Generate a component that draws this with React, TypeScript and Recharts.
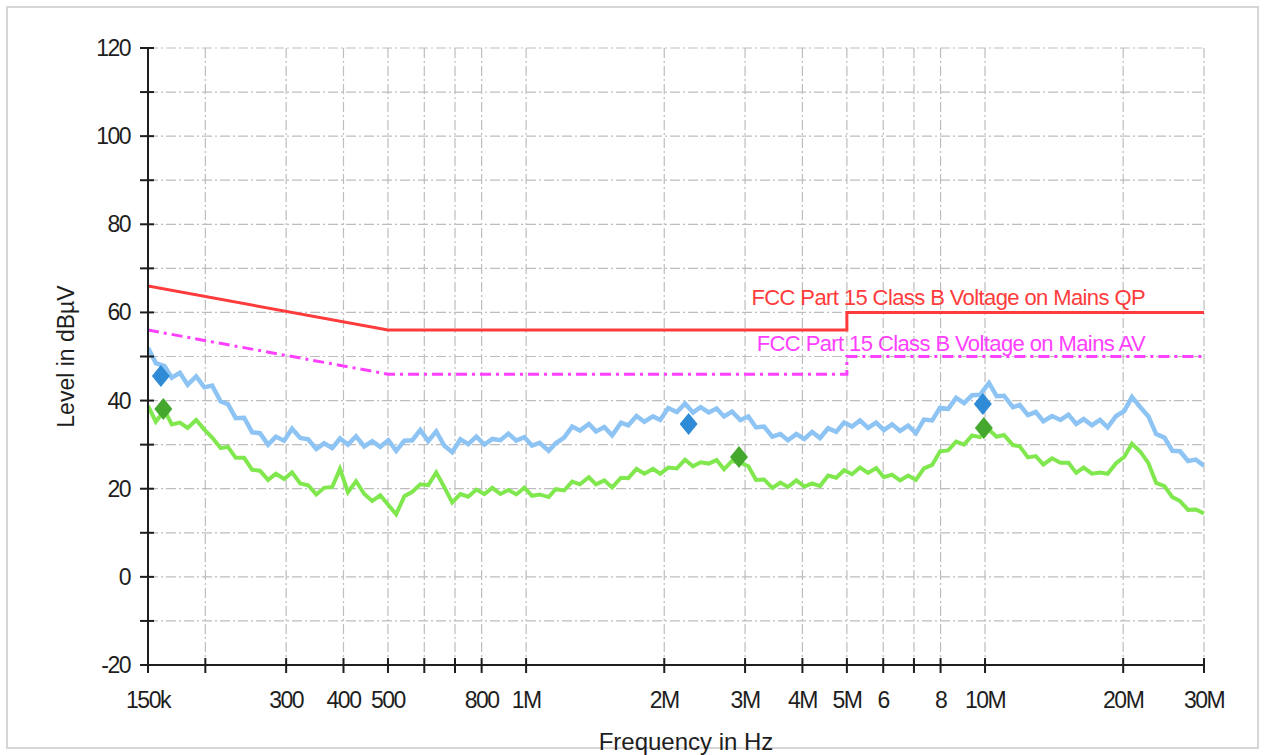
import { ComposedChart, Line, Scatter, XAxis, YAxis, CartesianGrid } from "recharts";

// scan frequencies in MHz
const freqMHz = [
  0.15, 0.156, 0.163, 0.169, 0.176, 0.183, 0.191, 0.199, 0.207, 0.216,
  0.224, 0.233, 0.243, 0.253, 0.263, 0.274, 0.285, 0.297, 0.309, 0.322,
  0.335, 0.349, 0.363, 0.378, 0.393, 0.409, 0.426, 0.444, 0.462, 0.481,
  0.501, 0.521, 0.543, 0.565, 0.588, 0.612, 0.637, 0.663, 0.69, 0.719,
  0.748, 0.779, 0.811, 0.844, 0.879, 0.915, 0.952, 0.991, 1.03, 1.07,
  1.12, 1.16, 1.21, 1.26, 1.31, 1.37, 1.42, 1.48, 1.54, 1.61,
  1.67, 1.74, 1.81, 1.89, 1.96, 2.04, 2.13, 2.22, 2.31, 2.4,
  2.5, 2.6, 2.7, 2.81, 2.93, 3.05, 3.17, 3.3, 3.44, 3.58,
  3.72, 3.88, 4.04, 4.2, 4.37, 4.55, 4.74, 4.93, 5.13, 5.34,
  5.56, 5.79, 6.02, 6.27, 6.53, 6.8, 7.07, 7.36, 7.67, 7.98,
  8.31, 8.65, 9.0, 9.37, 9.75, 10.2, 10.6, 11.0, 11.5, 11.9,
  12.4, 12.9, 13.4, 14.0, 14.6, 15.2, 15.8, 16.4, 17.1, 17.8,
  18.5, 19.3, 20.1, 20.9, 21.8, 22.7, 23.6, 24.6, 25.6, 26.6,
  27.7, 28.8, 30.0,
];

// peak detector trace (dBµV)
const peakLevel = [
  52, 48.5, 47.8, 45.2, 46.3, 43.6, 45.5, 43, 43.4, 39.8,
  39.2, 36, 36.1, 32.8, 32.6, 30, 31.8, 30.9, 33.6, 31.5,
  31.2, 29, 30.3, 29.2, 31.4, 30, 31.9, 29.6, 30.8, 29.5,
  31, 28.6, 30.9, 31, 33.3, 30.8, 33, 29.8, 28.3, 31.2,
  30.1, 31.8, 30, 31.3, 31, 32.5, 30.9, 31.7, 29.8, 30.4,
  28.6, 30.3, 31.6, 34.1, 33.2, 34.7, 33, 34, 32.1, 35,
  34.4, 36.5, 35.2, 36.4, 35.6, 38.3, 37.4, 39.3, 37.3, 38.5,
  37.3, 38.2, 36.4, 37.5, 35.6, 36.4, 33.9, 34.1, 31.8, 32.4,
  31, 32.4, 31.3, 32.9, 31.5, 33.7, 32.9, 35, 34.1, 35.5,
  33.8, 35, 33.3, 34.6, 33.1, 34.3, 32.6, 35.7, 35.5, 38.4,
  38.1, 40.6, 39.4, 41.2, 41.3, 44, 41, 41.1, 38.5, 39,
  36.7, 37.4, 35.3, 36.5, 35.6, 36.8, 34.7, 35.8, 34.4, 35.6,
  33.9, 36.5, 37.6, 40.8, 38.5, 36.4, 32.4, 31.6, 28.6, 28.5,
  26.3, 26.6, 25.2,
];

// average detector trace (dBµV)
const avgLevel = [
  38.8, 35.2, 37.8, 34.6, 35, 33.8, 35.6, 33.4, 31.6, 29.2,
  29.5, 27, 27, 24.3, 24.1, 22, 23.4, 22.2, 23.7, 21.2,
  20.8, 18.7, 20.2, 20.4, 24.5, 19.2, 21.7, 18.8, 17.2, 18.5,
  16.3, 14.2, 18.3, 19.3, 21, 20.8, 23.7, 20.4, 16.9, 18.8,
  18.2, 19.8, 18.8, 20.2, 18.8, 19.7, 18.7, 20.2, 18.4, 18.7,
  18.1, 19.9, 19.6, 21.6, 21, 22.6, 21, 21.9, 20.3, 22.5,
  22.4, 24.5, 23.4, 24.5, 23.4, 24.8, 24.6, 26.6, 25.1, 26,
  25.7, 26.5, 24.4, 26.3, 25.9, 25.1, 22, 22.1, 20.2, 21.4,
  20.4, 21.9, 20.5, 21.2, 20.6, 23, 22.5, 24.2, 23.3, 24.8,
  23.6, 24.7, 22.6, 23.2, 21.9, 23, 22, 24.6, 25.4, 28.5,
  28.7, 30.7, 30, 32.1, 31.7, 33.4, 31.8, 32.2, 29.9, 29.6,
  27.1, 27.4, 25.5, 26.9, 25.9, 25.9, 23.6, 24.8, 23.4, 23.7,
  23.4, 25.8, 27.2, 30.2, 28.4, 25.8, 21.3, 20.6, 18.1, 17.2,
  15.2, 15.3, 14.4,
];

// final measurement markers
const qpMarkF = [0.16, 2.26, 9.89];
const qpMarkV = [45.6, 34.7, 39.2];
const avMarkF = [0.162, 2.91, 9.94];
const avMarkV = [38.1, 27.2, 33.8];

// limit lines
const limitF = [0.15, 0.5, 5, 5, 30];
const qpLimitV = [66, 56, 56, 60, 60];
const avLimitV = [56, 46, 46, 50, 50];

const xTicks = [0.15, 0.2, 0.3, 0.4, 0.5, 0.6, 0.7, 0.8, 1, 2, 3, 4, 5, 6, 7, 8, 10, 20, 30];
const xTickLabels = ["150k", "", "300", "400", "500", "", "", "800", "1M", "2M", "3M", "4M", "5M", "6", "", "8", "10M", "20M", "30M"];
const yTicks = [-20, -10, 0, 10, 20, 30, 40, 50, 60, 70, 80, 90, 100, 110, 120];
const yTickLabels = ["-20", "", "0", "", "20", "", "40", "", "60", "", "80", "", "100", "", "120"];

const toPts = (fs: number[], vs: number[]) => fs.map((f, i) => ({ f, v: vs[i] }));
const peakData = toPts(freqMHz, peakLevel);
const avgData = toPts(freqMHz, avgLevel);
const qpLimit = toPts(limitF, qpLimitV);
const avLimit = toPts(limitF, avLimitV);
const qpMarks = toPts(qpMarkF, qpMarkV);
const avMarks = toPts(avMarkF, avMarkV);

const FONT = '"Liberation Sans", Arial, sans-serif';
const INK = "#1e1e1e";

const XTick = (props: any) => {
  const { x, y, payload } = props;
  const label = xTickLabels[xTicks.indexOf(payload.value)];
  return (
    <g>
      <line x1={x} x2={x} y1={y - 21} y2={y - 6} stroke={INK} strokeWidth={2} />
      {label ? (
        <text x={x} y={y} dy={29} textAnchor="middle" fontFamily={FONT} fontSize={23} letterSpacing={-1.5} fill={INK}>
          {label}
        </text>
      ) : null}
    </g>
  );
};

const YTick = (props: any) => {
  const { x, y, payload } = props;
  const label = yTickLabels[yTicks.indexOf(payload.value)];
  return (
    <g>
      <line x1={x + 6} x2={x + 20} y1={y} y2={y} stroke={INK} strokeWidth={2} />
      {label ? (
        <text x={x - 4} y={y} dy="0.35em" textAnchor="end" fontFamily={FONT} fontSize={23} letterSpacing={-1.5} fill={INK}>
          {label}
        </text>
      ) : null}
    </g>
  );
};

const diamond = (fill: string) => (props: any) => {
  const { cx, cy } = props;
  return <polygon points={`${cx},${cy - 11} ${cx + 9},${cy} ${cx},${cy + 11} ${cx - 9},${cy}`} fill={fill} />;
};

const limitLabel = (text: string, color: string, dy: number) => (props: any) => {
  const { x, y, index } = props;
  if (index !== limitF.length - 1) return null;
  return (
    <text x={x - 59} y={y + dy} textAnchor="end" fontFamily={FONT} fontSize={22} letterSpacing={-0.6} fill={color}>
      {text}
    </text>
  );
};

export default function App() {
  return (
    <div style={{ position: "absolute", left: 0, top: 0, width: 1265, height: 755, background: "#fff", overflow: "hidden" }}>
      <div
        style={{
          position: "absolute",
          left: 6,
          top: 6,
          width: 1249,
          height: 739,
          border: "2px solid #d6d6d6",
        }}
      />
      <div style={{ position: "absolute", left: 0, top: 0 }}>
        <ComposedChart width={1265} height={755} margin={{ top: 48, right: 61, bottom: 30, left: 68 }}>
          <CartesianGrid stroke="#bdbdbd" strokeWidth={1.2} strokeDasharray="10 3 2 3" />
          <XAxis
            dataKey="f"
            type="number"
            scale="log"
            domain={[0.15, 30]}
            ticks={xTicks}
            allowDataOverflow
            height={60}
            tickSize={8}
            tickMargin={6}
            tickLine={false}
            axisLine={{ stroke: INK, strokeWidth: 2 }}
            tick={<XTick />}
            interval={0}
            label={{
              content: (p: any) => (
                <text
                  x={p.viewBox.x + p.viewBox.width / 2 + 10}
                  y={p.viewBox.y + 85}
                  textAnchor="middle"
                  fontFamily={FONT}
                  fontSize={24}
                  fill={INK}
                >
                  Frequency in Hz
                </text>
              ),
            }}
          />
          <YAxis
            dataKey="v"
            type="number"
            domain={[-20, 120]}
            ticks={yTicks}
            allowDataOverflow
            width={80}
            tickSize={8}
            tickMargin={6}
            tickLine={false}
            axisLine={{ stroke: INK, strokeWidth: 2 }}
            tick={<YTick />}
            interval={0}
            label={{
              content: (p: any) => {
                const cx = p.viewBox.x + 6;
                const cy = p.viewBox.y + p.viewBox.height / 2;
                return (
                  <text
                    x={cx}
                    y={cy}
                    transform={`rotate(-90 ${cx} ${cy})`}
                    textAnchor="middle"
                    fontFamily={FONT}
                    fontSize={23}
                    fill={INK}
                  >
                    Level in dBµV
                  </text>
                );
              },
            }}
          />
          <Line data={peakData} dataKey="v" stroke="#8ec4f4" strokeWidth={4.5} strokeLinejoin="miter" dot={false} isAnimationActive={false} />
          <Line data={avgData} dataKey="v" stroke="#80e84e" strokeWidth={4} strokeLinejoin="miter" dot={false} isAnimationActive={false} />
          <Line
            data={qpLimit}
            dataKey="v"
            stroke="#ff3b3b"
            strokeWidth={3}
            dot={false}
            isAnimationActive={false}
            label={limitLabel("FCC Part 15 Class B Voltage on Mains QP", "#ff3b3b", -7)}
          />
          <Line
            data={avLimit}
            dataKey="v"
            stroke="#ff40ff"
            strokeWidth={3}
            strokeDasharray="11 5 3 5"
            dot={false}
            isAnimationActive={false}
            label={limitLabel("FCC Part 15 Class B Voltage on Mains AV", "#ff40ff", -6)}
          />
          <Scatter data={qpMarks} dataKey="v" shape={diamond("#2f8bd6")} isAnimationActive={false} />
          <Scatter data={avMarks} dataKey="v" shape={diamond("#45a82e")} isAnimationActive={false} />
        </ComposedChart>
      </div>
    </div>
  );
}
